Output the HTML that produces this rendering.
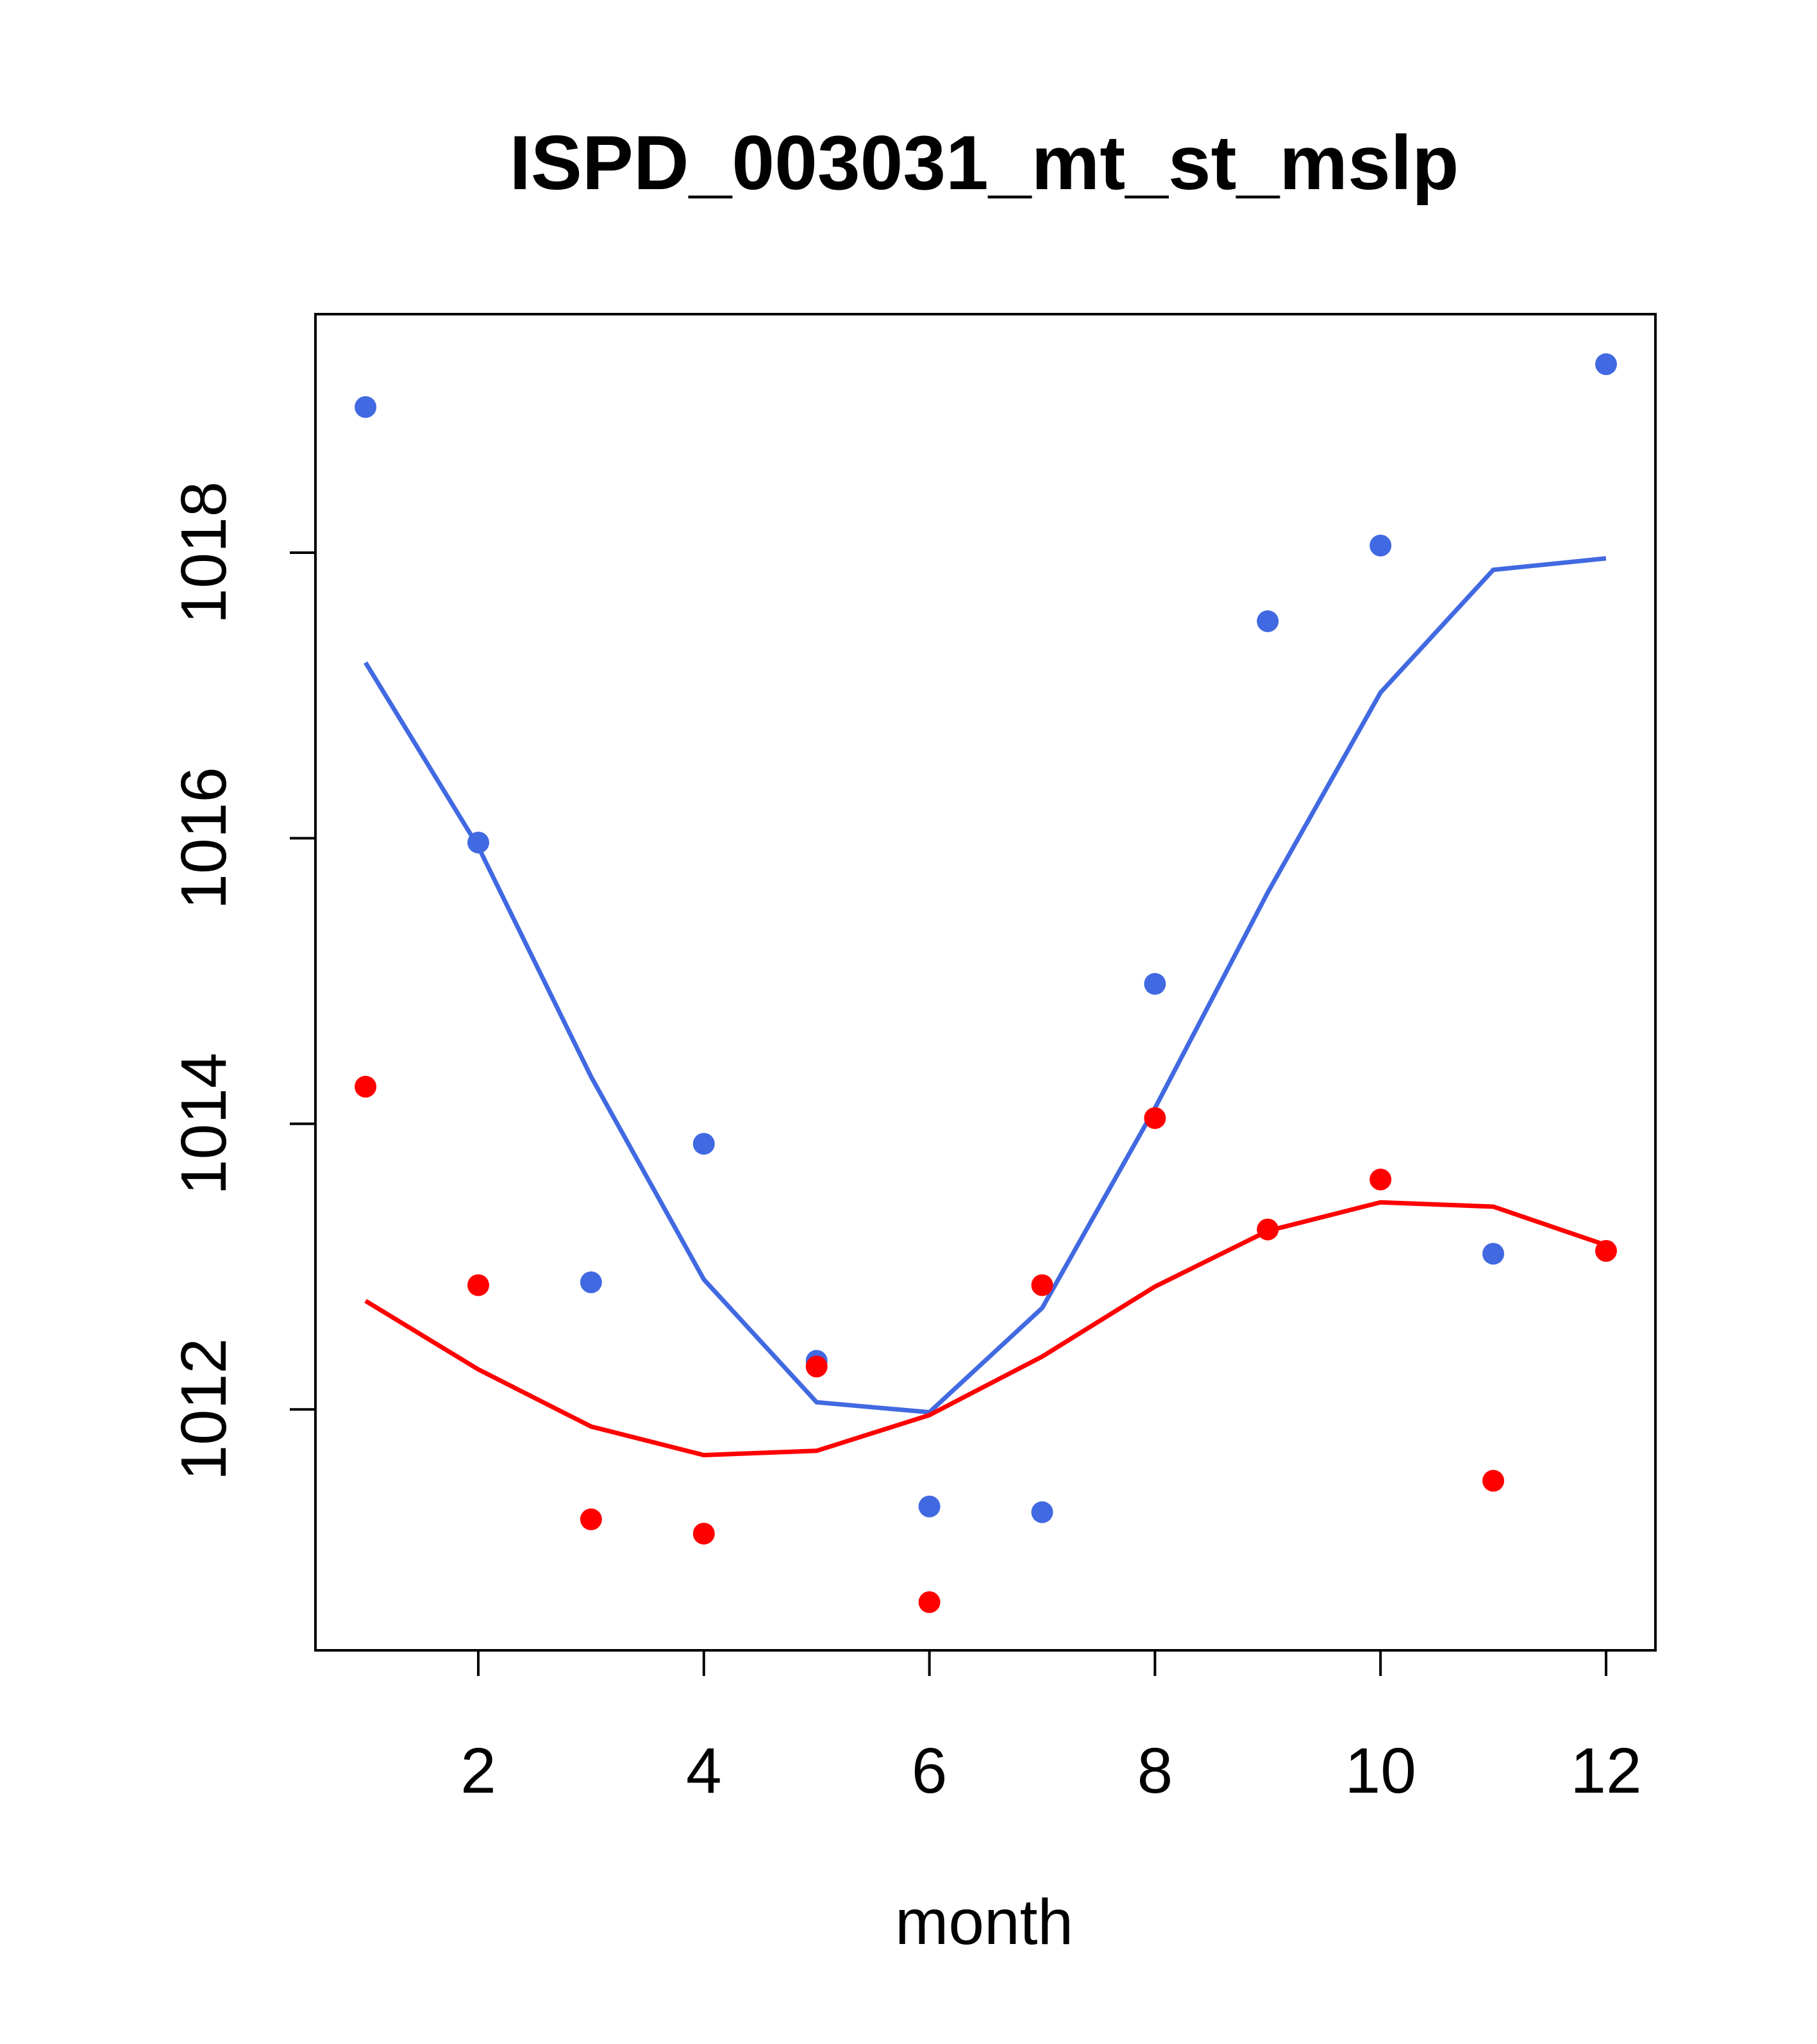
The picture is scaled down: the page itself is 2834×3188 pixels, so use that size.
<!DOCTYPE html>
<html><head><meta charset="utf-8"><style>
html,body{margin:0;padding:0;background:#fff;}
svg{display:block;font-family:"Liberation Sans",Arial,sans-serif;}
</style></head><body>
<svg id="chart" width="2834" height="3188" viewBox="0 0 2834 3188" xmlns="http://www.w3.org/2000/svg">
<rect width="2834" height="3188" fill="#fff"/>
<text x="1535" y="295" font-size="120" font-weight="bold" text-anchor="middle">ISPD_003031_mt_st_mslp</text>
<rect x="492" y="490" width="2090" height="2084" fill="none" stroke="#000" stroke-width="4"/>
<g id="xaxis"></g>
<g id="yaxis"></g>
<text x="1535" y="3032" font-size="100" text-anchor="middle">month</text>
<g id="marks"></g>
</svg>
<script>
const months=[1,2,3,4,5,6,7,8,9,10,11,12];
const blueValues=[1019.02,1015.97,1012.89,1013.86,1012.34,1011.32,1011.28,1014.98,1017.52,1018.05,1013.09,1019.32];
const blueTrend=[1017.23,1015.94,1014.33,1012.91,1012.05,1011.98,1012.71,1014.11,1015.62,1017.02,1017.88,1017.96];
const redValues=[1014.26,1012.87,1011.23,1011.13,1012.30,1010.65,1012.87,1014.04,1013.26,1013.61,1011.50,1013.11];
const redTrend=[1012.76,1012.28,1011.88,1011.68,1011.71,1011.96,1012.37,1012.86,1013.25,1013.45,1013.42,1013.15];
const xTicks=[2,4,6,8,10,12];
const yTicks=[1012,1014,1016,1018];

const NS="http://www.w3.org/2000/svg";
function xs(m){return 746+(m-2)*175.9;}
function ys(v){return 862+(1018-v)*222.7;}
function mk(tag,attrs,parent){const e=document.createElementNS(NS,tag);for(const k in attrs)e.setAttribute(k,attrs[k]);parent.appendChild(e);return e;}

const xa=document.getElementById('xaxis');
xTicks.forEach(t=>{
  const l=mk('line',{x1:xs(t),x2:xs(t),y1:2574,y2:2614,stroke:'#000','stroke-width':4},xa);
  
  
  const tx=mk('text',{x:xs(t),y:2796,'font-size':100,'text-anchor':'middle'},xa);
  tx.textContent=t;
  
  
});
const ya=document.getElementById('yaxis');
yTicks.forEach(t=>{
  const y=ys(t);
  const l=mk('line',{x1:452,x2:492,y1:y,y2:y,stroke:'#000','stroke-width':4},ya);
  
  
  const tx=mk('text',{x:352,y:y,'font-size':100,'text-anchor':'middle',transform:`rotate(-90 352 ${y})`},ya);
  tx.textContent=t;
  
  
});

const g=document.getElementById('marks');
function line(vals,color,name){
  const p=mk('polyline',{points:vals.map((v,i)=>xs(months[i])+','+ys(v)).join(' '),fill:'none',stroke:color,'stroke-width':7},g);
  
  
}
function pts(vals,color,name){
  vals.forEach((v,i)=>{
    const c=mk('circle',{cx:xs(months[i]),cy:ys(v),r:17,fill:color},g);
    
    
  });
}
line(blueTrend,'#4169E1','blue-trend-line');
line(redTrend,'#FF0000','red-trend-line');
pts(blueValues,'#4169E1','blue-point');
pts(redValues,'#FF0000','red-point');
</script>
</body></html>
